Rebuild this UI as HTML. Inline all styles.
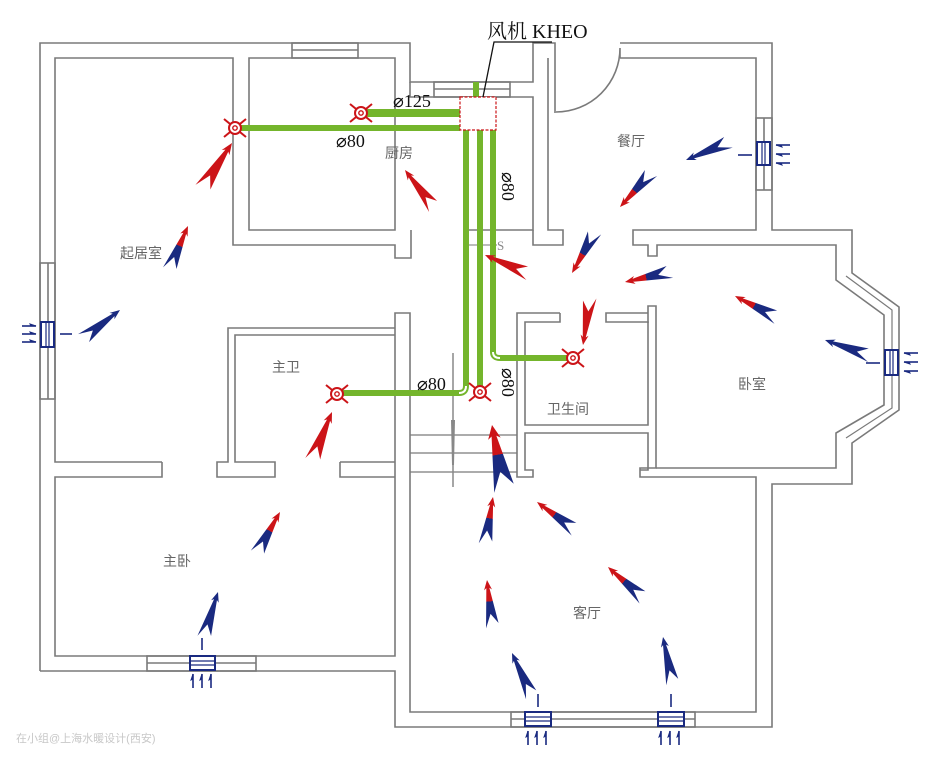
<!DOCTYPE html>
<html><head><meta charset="utf-8">
<style>html,body{margin:0;padding:0;background:#fff;}svg{display:block;}</style>
</head><body>
<svg width="938" height="761" viewBox="0 0 938 761" xmlns="http://www.w3.org/2000/svg">
<defs>
<linearGradient id="rb" x1="0" y1="0" x2="1" y2="0">
<stop offset="0" stop-color="#1a2a80"/><stop offset="0.55" stop-color="#1a2a80"/><stop offset="0.55" stop-color="#cc1418"/><stop offset="1" stop-color="#cc1418"/>
</linearGradient>
<path id="ar" d="M0,0 L-10,-4 L-8,-1.5 L-48,-6 L-34,0 L-44,7 L-8,1.5 L-10,4 Z"/>
<g id="df">
<line x1="-11" y1="-9" x2="11" y2="9" stroke="#cc1418" stroke-width="2"/>
<line x1="-11" y1="9" x2="11" y2="-9" stroke="#cc1418" stroke-width="2"/>
<circle r="6" fill="#fff" stroke="#cc1418" stroke-width="2"/>
<circle r="2.2" fill="none" stroke="#cc1418" stroke-width="1.4"/>
</g>
<g id="sa"><line x1="0" y1="0" x2="-14" y2="0" stroke="#1a2a80" stroke-width="1.6"/><path d="M0,0 L-6,-2 L-5,0 Z" fill="#1a2a80" stroke="#1a2a80"/></g>
</defs>

<g fill="none" stroke="#7a7a7a" stroke-width="1.6">
<path d="M40,671 V43 H410 V82 H533 V43 H555 V113"/>
<path d="M620,43 H772 V230 H852 V273 L899,307 V410 L852,443 V484 H772 V727 H395 V671 H40"/>
<path d="M556,112 A64,64 0 0 0 620,48 V58"/>
<path d="M162,462 H55 V58 H233 V245 H395 V258 H411 V230"/>
<path d="M162,462 V477 H55 V656 H395 V313 H410 V712 H756 V477 H640 V468 H656 V306 H648 V323"/>
<path d="M249,58 H395 V230 H249 Z"/>
<rect x="292" y="43" width="66" height="15"/><line x1="292" y1="50" x2="358" y2="50"/>
<path d="M410,82 V97 H533 V230 H468"/>
<rect x="434" y="82" width="76" height="15"/><line x1="434" y1="89" x2="510" y2="89"/>
<line x1="468" y1="245" x2="497" y2="245" stroke-width="1"/>
<path d="M548,58 V230 H563 V245 H533 V230"/>
<path d="M620,58 H756 V230 H633 V245 H648 V256 H657 V245 H836 V280 L884,315 V405 L836,433 V468 H656"/>
<rect x="756" y="118" width="16" height="72"/><line x1="764" y1="118" x2="764" y2="190"/>
<path d="M846,276 L892,310 V408 L846,438" stroke-width="1.2"/>
<path d="M560,313 H517 V477 H533 V470 H525 V433 H648 V470 H640"/>
<path d="M560,313 V322 H525 V425 H648 V322 H606 V313 H648"/>
<path d="M410,435 H517 M410,453 H517 M410,472 H517" stroke-width="1.2"/>
<path d="M395,328 H228 V462 H217 V477 H275 V462 H235 V335 H395"/>
<path d="M340,462 H395 M340,462 V477 H395"/>
<rect x="40" y="263" width="15" height="136"/><line x1="48" y1="263" x2="48" y2="399"/>
<rect x="147" y="656" width="109" height="15"/><line x1="147" y1="663" x2="256" y2="663"/>
<rect x="511" y="712" width="184" height="15"/><line x1="511" y1="719" x2="695" y2="719"/>
</g>
<line x1="453" y1="353" x2="453" y2="487" stroke="#888" stroke-width="1.5"/>
<path d="M451,420 L455,420 L454,465 L452,465 Z" fill="#888"/>

<g stroke="#74b52c" fill="none" stroke-linecap="butt">
<line x1="361" y1="113" x2="460" y2="113" stroke-width="8"/>
<line x1="235" y1="128" x2="460" y2="128" stroke-width="6"/>
<line x1="476" y1="82" x2="476" y2="97" stroke-width="6"/>
<path d="M466,130 V386 Q466,393 459,393 H337" stroke-width="6"/>
<line x1="480" y1="130" x2="480" y2="386" stroke-width="6"/>
<path d="M493,130 V352 Q493,358 500,358 H573" stroke-width="6"/>
</g>
<path d="M466,386 Q466,393 459,393" stroke="#fff" stroke-width="2" fill="none"/>
<path d="M493,352 Q493,358 500,358" stroke="#fff" stroke-width="2" fill="none"/>
<rect x="460" y="97" width="36" height="33" fill="#fff" stroke="#cc1418" stroke-width="1.2" stroke-dasharray="3,1.5"/>
<path d="M483,97 L494,42 H552" fill="none" stroke="#111" stroke-width="1.3"/>

<use href="#df" x="235" y="128"/>
<use href="#df" x="361" y="113"/>
<use href="#df" x="337" y="394"/>
<use href="#df" x="480" y="392"/>
<use href="#df" x="573" y="358"/>

<g font-family="'Liberation Serif','Noto Serif CJK SC',serif" fill="#111">
<text x="487" y="38" font-size="20">风机 KHEO</text>
<text x="393" y="107" font-size="18">⌀125</text>
<text x="336" y="147" font-size="18">⌀80</text>
<text x="417" y="390" font-size="18">⌀80</text>
<text transform="translate(502,172) rotate(90)" font-size="18">⌀80</text>
<text transform="translate(502,368) rotate(90)" font-size="18">⌀80</text>
</g>
<g font-family="'Liberation Sans','Noto Sans CJK SC',sans-serif" fill="#666" font-size="14">
<text x="385" y="158">厨房</text>
<text x="617" y="146">餐厅</text>
<text x="120" y="258">起居室</text>
<text x="272" y="372">主卫</text>
<text x="547" y="414">卫生间</text>
<text x="738" y="389">卧室</text>
<text x="163" y="566">主卧</text>
<text x="573" y="618">客厅</text>
<text x="497" y="250" font-size="13" font-family="'Liberation Serif',serif" fill="#888">S</text>
</g>

<g>
<use href="#ar" fill="#cc1418" transform="translate(232,143) rotate(-56) scale(1.15)"/>
<use href="#ar" fill="url(#rb)" transform="translate(188,226) rotate(-66)"/>
<use href="#ar" fill="#1a2a80" transform="translate(120,310) rotate(-37)"/>
<use href="#ar" fill="#cc1418" transform="translate(405,170) rotate(-127)"/>
<use href="#ar" fill="#cc1418" transform="translate(485,255) rotate(-156)"/>
<use href="#ar" fill="#1a2a80" transform="translate(686,160) rotate(158)"/>
<use href="#ar" fill="url(#rb)" transform="translate(620,207) rotate(133)"/>
<use href="#ar" fill="url(#rb)" transform="translate(572,273) rotate(120)"/>
<use href="#ar" fill="url(#rb)" transform="translate(625,282) rotate(168)"/>
<use href="#ar" fill="#cc1418" transform="translate(583,345) rotate(99)"/>
<use href="#ar" fill="url(#rb)" transform="translate(735,296) rotate(-152)"/>
<use href="#ar" fill="#1a2a80" transform="translate(825,340) rotate(-160)"/>
<use href="#ar" fill="#cc1418" transform="translate(332,412) rotate(-67) scale(1.1)"/>
<use href="#ar" fill="url(#rb)" transform="translate(280,512) rotate(-60)"/>
<use href="#ar" fill="#1a2a80" transform="translate(218,592) rotate(-72)"/>
<use href="#ar" fill="url(#rb)" transform="translate(492,425) rotate(-100) scale(1.4,1.6)"/>
<use href="#ar" fill="url(#rb)" transform="translate(493,497) rotate(-80)"/>
<use href="#ar" fill="url(#rb)" transform="translate(537,502) rotate(-143)"/>
<use href="#ar" fill="url(#rb)" transform="translate(487,580) rotate(-96)"/>
<use href="#ar" fill="url(#rb)" transform="translate(608,567) rotate(-138)"/>
<use href="#ar" fill="#1a2a80" transform="translate(512,653) rotate(-114)"/>
<use href="#ar" fill="#1a2a80" transform="translate(663,637) rotate(-101)"/>
</g>

<g fill="#fff" stroke="#1a2a80" stroke-width="2">
<rect x="41" y="322" width="13" height="25"/>
<rect x="757" y="142" width="13" height="23"/>
<rect x="885" y="350" width="13" height="25"/>
<rect x="190" y="656" width="25" height="14"/>
<rect x="525" y="712" width="26" height="14"/>
<rect x="658" y="712" width="26" height="14"/>
</g>
<g stroke="#1a2a80" stroke-width="1.2">
<line x1="46" y1="322" x2="46" y2="347"/><line x1="49" y1="322" x2="49" y2="347"/>
<line x1="762" y1="142" x2="762" y2="165"/><line x1="765" y1="142" x2="765" y2="165"/>
<line x1="890" y1="350" x2="890" y2="375"/><line x1="893" y1="350" x2="893" y2="375"/>
<line x1="190" y1="661" x2="215" y2="661"/><line x1="190" y1="665" x2="215" y2="665"/>
<line x1="525" y1="717" x2="551" y2="717"/><line x1="525" y1="721" x2="551" y2="721"/>
<line x1="658" y1="717" x2="684" y2="717"/><line x1="658" y1="721" x2="684" y2="721"/>
</g>
<g>
<use href="#sa" transform="translate(36,326)"/><use href="#sa" transform="translate(36,334)"/><use href="#sa" transform="translate(36,342)"/>
<line x1="60" y1="334" x2="72" y2="334" stroke="#1a2a80" stroke-width="1.6"/>
<use href="#sa" transform="translate(776,145) rotate(180)"/><use href="#sa" transform="translate(776,154) rotate(180)"/><use href="#sa" transform="translate(776,163) rotate(180)"/>
<line x1="738" y1="155" x2="752" y2="155" stroke="#1a2a80" stroke-width="1.6"/>
<use href="#sa" transform="translate(904,353) rotate(180)"/><use href="#sa" transform="translate(904,362) rotate(180)"/><use href="#sa" transform="translate(904,371) rotate(180)"/>
<line x1="866" y1="363" x2="880" y2="363" stroke="#1a2a80" stroke-width="1.6"/>
<use href="#sa" transform="translate(193,674) rotate(-90)"/><use href="#sa" transform="translate(202,674) rotate(-90)"/><use href="#sa" transform="translate(211,674) rotate(-90)"/>
<line x1="202" y1="638" x2="202" y2="650" stroke="#1a2a80" stroke-width="1.6"/>
<use href="#sa" transform="translate(528,731) rotate(-90)"/><use href="#sa" transform="translate(537,731) rotate(-90)"/><use href="#sa" transform="translate(546,731) rotate(-90)"/>
<line x1="538" y1="694" x2="538" y2="707" stroke="#1a2a80" stroke-width="1.6"/>
<use href="#sa" transform="translate(661,731) rotate(-90)"/><use href="#sa" transform="translate(670,731) rotate(-90)"/><use href="#sa" transform="translate(679,731) rotate(-90)"/>
<line x1="671" y1="694" x2="671" y2="707" stroke="#1a2a80" stroke-width="1.6"/>
</g>

<text x="16" y="742" font-family="'Liberation Sans','Noto Sans CJK SC',sans-serif" font-size="11" fill="#c8c8c8">在小组@上海水暖设计(西安)</text>
</svg>
</body></html>
